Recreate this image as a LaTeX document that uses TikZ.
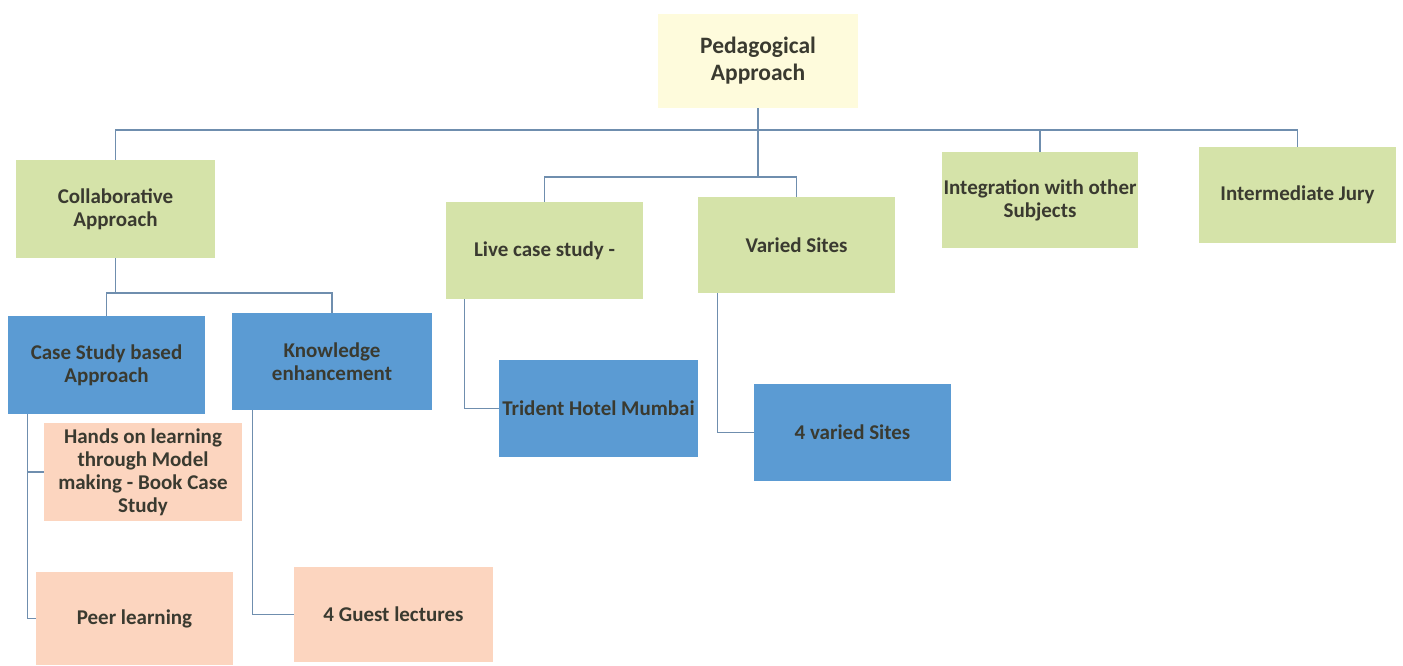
\documentclass[tikz,border=0pt]{standalone}
\usepackage{fontspec}
\setmainfont{Carlito}
\definecolor{rootc}{HTML}{FEFBDC}
\definecolor{greenc}{HTML}{D5E3A9}
\definecolor{bluec}{HTML}{5B9BD3}
\definecolor{peachc}{HTML}{FCD5BF}
\definecolor{linec}{HTML}{6F8EAE}
\definecolor{txtc}{HTML}{3A3A30}
\begin{document}
\begin{tikzpicture}[x=1pt,y=-1pt,
  box/.style={draw=none,inner sep=0pt,align=center,text=txtc,
    font=\fontsize{21}{23}\selectfont\bfseries},
  rootbox/.style={box,fill=rootc,minimum width=200pt,minimum height=94pt,
    font=\fontsize{23.5}{27}\selectfont\bfseries},
  greenbox/.style={box,fill=greenc},
  bluebox/.style={box,fill=bluec},
  peachbox/.style={box,fill=peachc},
  conn/.style={draw=linec,line width=1.2pt}]
\useasboundingbox (0,0) rectangle (1403,666);
\fill[white] (0,0) rectangle (1403,666);
% nodes
\node[rootbox] (root) at (758,61) {Pedagogical\\Approach};
\node[greenbox,minimum width=199pt,minimum height=98pt] (collab) at (115.5,209) {Collaborative\\Approach};
\node[greenbox,minimum width=197pt,minimum height=97pt] (live) at (544.5,250.5) {Live case study -};
\node[greenbox,minimum width=197pt,minimum height=96pt] (varied) at (796.5,245) {Varied Sites};
\node[greenbox,minimum width=196pt,minimum height=96pt] (integ) at (1040,200) {Integration with other\\Subjects};
\node[greenbox,minimum width=197pt,minimum height=96pt] (jury) at (1297.5,195) {Intermediate Jury};
\node[bluebox,minimum width=197pt,minimum height=98pt] (case) at (106.5,365) {Case Study based\\Approach};
\node[bluebox,minimum width=200pt,minimum height=97pt] (know) at (332,361.5) {Knowledge\\enhancement};
\node[bluebox,minimum width=199pt,minimum height=97pt] (trident) at (598.5,408.5) {Trident Hotel Mumbai};
\node[bluebox,minimum width=197pt,minimum height=97pt] (sites) at (852.5,432.5) {4 varied Sites};
\node[peachbox,minimum width=198pt,minimum height=98pt] (hands) at (143,472) {Hands on learning\\through Model\\making - Book Case\\Study};
\node[peachbox,minimum width=197pt,minimum height=93pt] (peer) at (134.5,618.5) {Peer learning};
\node[peachbox,minimum width=199pt,minimum height=95pt] (guest) at (393.5,614.5) {4 Guest lectures};
% junctions
\coordinate (bus) at (758,130);
\coordinate (sub) at (758,177);
\coordinate (cbus) at (115.5,293);
% connectors
\draw[conn] (root.south) -- (bus) -- (sub);
\draw[conn] (bus) -| (collab.north);
\draw[conn] (bus) -| (integ.north);
\draw[conn] (bus) -| (jury.north);
\draw[conn] (sub) -| (live.north);
\draw[conn] (sub) -| (varied.north);
\draw[conn] (collab.south) -- (cbus);
\draw[conn] (cbus) -| (case.north);
\draw[conn] (cbus) -| (know.north);
\draw[conn] ([xshift=20pt]case.south west) |- (hands.west);
\draw[conn] ([xshift=20pt]case.south west) |- (peer.west);
\draw[conn] ([xshift=21pt]know.south west) |- (guest.west);
\draw[conn] ([xshift=19pt]live.south west) |- (trident.west);
\draw[conn] ([xshift=20pt]varied.south west) |- (sites.west);
\end{tikzpicture}
\end{document}
